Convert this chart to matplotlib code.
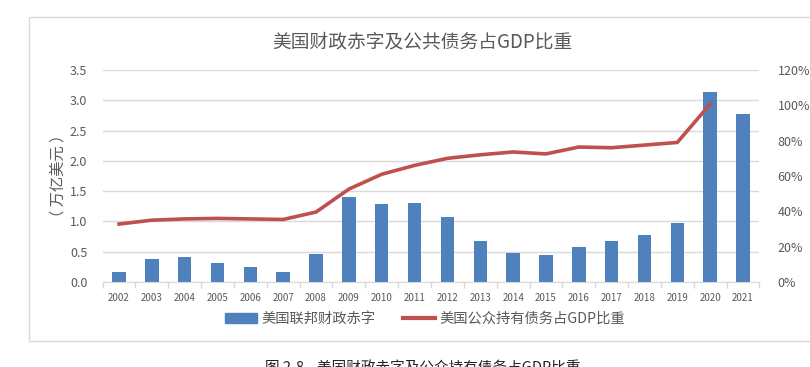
import matplotlib.pyplot as plt
import matplotlib.patches as mpatches
from matplotlib.lines import Line2D
import numpy as np

plt.rcParams['font.family'] = ['Noto Sans CJK SC', 'DejaVu Sans']

years = ['2002', '2003', '2004', '2005', '2006', '2007', '2008', '2009', '2010', '2011',
         '2012', '2013', '2014', '2015', '2016', '2017', '2018', '2019', '2020', '2021']
deficit = [0.16, 0.38, 0.41, 0.31, 0.25, 0.16, 0.46, 1.41, 1.29, 1.30,
           1.08, 0.68, 0.48, 0.44, 0.58, 0.67, 0.78, 0.98, 3.13, 2.77]
debt_years = years[:-1]
debt_ratio = [32.8, 35.0, 35.7, 36.0, 35.7, 35.4, 39.6, 52.6, 61.0, 66.0,
              70.0, 72.0, 73.6, 72.5, 76.4, 76.0, 77.5, 79.0, 100.7]

bar_color = '#4F81BD'
line_color = '#C0504D'
text_color = '#595959'
grid_color = '#D9D9D9'

fig = plt.figure(figsize=(8.1, 3.67), dpi=100)

# chart frame (right edge runs off the picture)
frame = mpatches.Rectangle((29 / 810, 1 - 341 / 367), 1.0, (341 - 17) / 367,
                           transform=fig.transFigure, fill=False,
                           edgecolor='#D9D9D9', linewidth=1.0)
fig.patches.append(frame)

ax = fig.add_axes([102.6 / 810, 1 - 282 / 367, (759.4 - 102.6) / 810, (282 - 70) / 367])
x = np.arange(len(years))
ax.bar(x, deficit, width=0.41, color=bar_color, zorder=2)
ax.set_xlim(-0.5, len(years) - 0.5)
ax.set_ylim(0, 3.5)
ax.set_yticks(np.arange(0, 3.51, 0.5))
ax.set_yticklabels([f'{v:.1f}' for v in np.arange(0, 3.51, 0.5)])
ax.set_xticks(x)
ax.set_xticklabels(years)
ax.set_xticks(np.arange(-0.5, len(years), 1), minor=True)
ax.tick_params(axis='x', which='major', length=0, labelsize=7, colors=text_color, pad=8)
ax.tick_params(axis='x', which='minor', length=4, color=grid_color, width=1)
ax.tick_params(axis='y', length=0, labelsize=9, colors=text_color, pad=11)
ax.grid(axis='y', color=grid_color, linewidth=1, zorder=0)
for s in ['top', 'right', 'left']:
    ax.spines[s].set_visible(False)
ax.spines['bottom'].set_color(grid_color)
ax.set_ylabel('（ 万亿美元 ）', color=text_color, fontsize=11, labelpad=2.5)

ax2 = ax.twinx()
ax2.plot(np.arange(len(debt_years)), debt_ratio, color=line_color, linewidth=2.6, zorder=3)
ax2.set_ylim(0, 120)
ax2.set_yticks(np.arange(0, 121, 20))
ax2.set_yticklabels([f'{v}%' for v in range(0, 121, 20)])
ax2.tick_params(axis='y', length=0, labelsize=9, colors=text_color, pad=13)
for s in ['top', 'right', 'left', 'bottom']:
    ax2.spines[s].set_visible(False)

fig.text(422 / 810, 1 - 42 / 367, '美国财政赤字及公共债务占GDP比重', ha='center', va='center',
         fontsize=13.5, color=text_color)

handles = [mpatches.Patch(color=bar_color, label='美国联邦财政赤字'),
           Line2D([0], [0], color=line_color, linewidth=3, label='美国公众持有债务占GDP比重')]
fig.legend(handles=handles, loc='center', bbox_to_anchor=(425 / 810, 1 - 319 / 367), ncol=2,
           frameon=False, fontsize=10.3, labelcolor=text_color, handlelength=2.2,
           columnspacing=2.0, handletextpad=0.3)

fig.text(423 / 810, 1 - 369 / 367, '图 2-8    美国财政赤字及公众持有债务占GDP比重', ha='center',
         va='center', fontsize=10.5, color='#222222')

fig.savefig('out.png', dpi=100)
